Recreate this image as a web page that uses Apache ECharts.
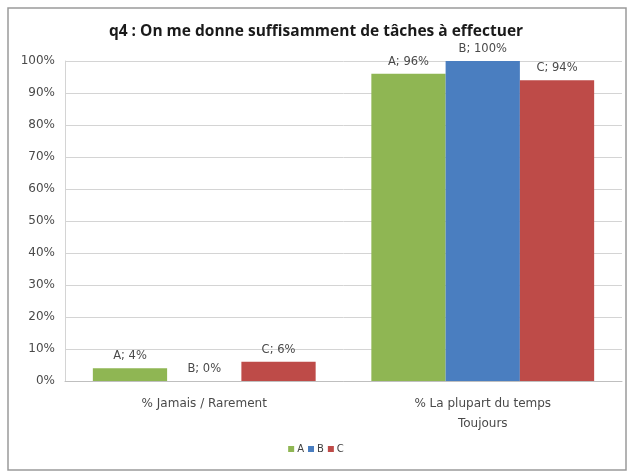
<!DOCTYPE html>
<html><head><meta charset="utf-8">
<script src="https://cdn.jsdelivr.net/npm/echarts@6/dist/echarts.min.js"></script>
<style>html,body{margin:0;padding:0;background:#fff}#c{width:632px;height:473px}</style>
</head><body><div id="c"></div>
<script>
const categories = ['% Jamais / Rarement', '% La plupart du temps\nToujours'];
const seriesNames = ['A', 'B', 'C'];
const valuesA = [4, 96];
const valuesB = [0, 100];
const valuesC = [6, 94];
const yTicks = [0, 10, 20, 30, 40, 50, 60, 70, 80, 90, 100];
const colors = ['#8FB653', '#4A7EC0', '#BE4B48'];
const font = '"DejaVu Sans", "Liberation Sans", sans-serif';
const titleFont = '"Open Sans", "Liberation Sans", sans-serif';

const chart = echarts.init(document.getElementById('c'));
const allVals = [valuesA, valuesB, valuesC];
chart.setOption({
  animation: false,
  backgroundColor: '#fff',
  title: {
    text: 'q4 : On me donne suffisamment de tâches à effectuer',
    left: 'center', top: 19,
    textStyle: { fontFamily: titleFont, fontSize: 15.5, fontWeight: 'bold', color: '#1a1a1a' }
  },
  legend: {
    data: seriesNames, bottom: 14, left: 'center',
    itemWidth: 6, itemHeight: 6, itemGap: 4,
    icon: 'rect',
    textStyle: { fontFamily: font, fontSize: 10, color: '#404040', padding: [0, 0, 0, -2] }
  },
  grid: { left: 65, right: 10, top: 61, bottom: 92, containLabel: false },
  xAxis: {
    type: 'category', data: categories,
    axisTick: { show: false },
    axisLine: { lineStyle: { color: '#bfbfbf' } },
    axisLabel: { fontFamily: font, fontSize: 12, color: '#4a4a4a', margin: 13, lineHeight: 20 }
  },
  yAxis: {
    type: 'value', min: yTicks[0], max: yTicks[yTicks.length - 1], interval: 10,
    axisLabel: { formatter: '{value}%', fontFamily: font, fontSize: 12, color: '#4a4a4a', margin: 10 },
    splitLine: { lineStyle: { color: '#d4d4d4' } },
    axisLine: { show: true, lineStyle: { color: '#d4d4d4' } },
    axisTick: { show: false }
  },
  graphic: [{
    type: 'rect', shape: { x: 8, y: 8, width: 618, height: 462 },
    style: { fill: 'none', stroke: '#9a9a9a', lineWidth: 1.5 }, silent: true, z: -1
  }],
  series: seriesNames.map((n, i) => ({
    name: n, type: 'bar', data: allVals[i],
    itemStyle: { color: colors[i] },
    barGap: '0%', barCategoryGap: '20%',
    label: {
      show: true, position: 'top', distance: 6,
      formatter: p => n + '; ' + p.value + '%',
      fontFamily: font, fontSize: 11.5, color: '#4a4a4a'
    }
  }))
});
</script></body></html>
